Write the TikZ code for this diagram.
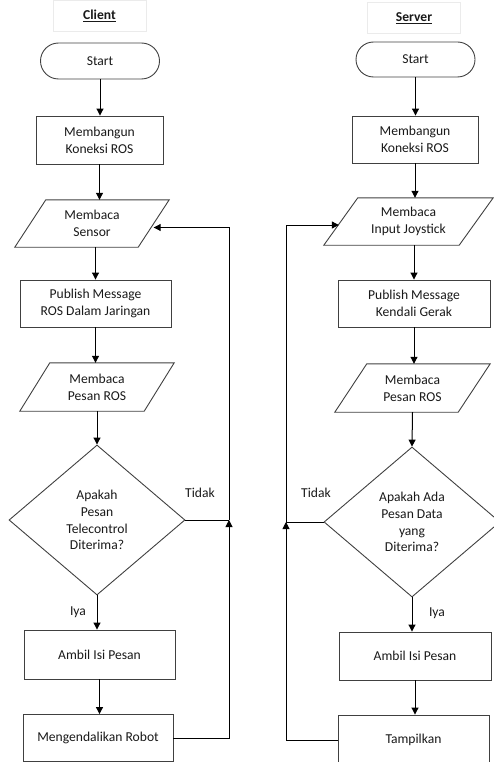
\documentclass[tikz,border=0pt]{standalone}
\usepackage{fontspec}
\setmainfont{Carlito}
\usetikzlibrary{shapes.geometric,shapes.misc,arrows.meta,calc}

% outline of an input/output parallelogram around a node #1, slant offset #2
\newcommand\drawio[2]{%
  \draw[shape line] ($(#1.north west)+(#2,0)$) -- (#1.north east)
    -- ($(#1.south east)-(#2,0)$) -- (#1.south west) -- cycle;}

\begin{document}
\begin{tikzpicture}[x=1pt,y=-1pt,
  every node/.style={font=\fontsize{13.6}{16.8}\selectfont, align=center, text=black!90, inner sep=0pt},
  shape line/.style={draw=black!75, line width=0.9pt},
  proc/.style={shape line, rectangle, minimum width=#1, minimum height=48},
  proc/.default=151,
  term/.style={shape line, rounded rectangle, minimum width=119, minimum height=36},
  io/.style={rectangle, minimum width=#1, minimum height=47},
  dec/.style={shape line, diamond, minimum width=176, minimum height=150},
  flow/.style={line width=1pt, -{Triangle[length=7pt,width=7pt]}},
  link/.style={line width=1pt},
  lbl/.style={font=\fontsize{13.6}{16}\selectfont},
  title/.style={draw=black!8, line width=0.6pt, minimum width=93, minimum height=31,
                font=\bfseries\fontsize{13.6}{16}\selectfont}
]
\clip (0,0) rectangle (494,762);
\useasboundingbox (0,0) rectangle (494,762);

% ---------------- Client ----------------
\node[title] (ctitle) at (99.5,16) {\underline{Client}};
\node[term] (cs) at (100,61) {Start};
\node[proc=127] (cb) at (99.5,140) {Membangun\\Koneksi ROS};
\node[io=154] (cr) at (92,223.5) {Membaca\\Sensor};
\drawio{cr}{31}
\node[proc=151, minimum height=47] (cp) at (95.5,303.5) {Publish Message\\ROS Dalam Jaringan};
\node[io=154, minimum height=48] (cm) at (97,387) {Membaca\\Pesan ROS};
\drawio{cm}{30}
\node[dec] (cd) at (97,520) {Apakah\\Pesan\\Telecontrol\\Diterima?};
\node[proc=151, minimum height=49] (ca) at (99.5,654.5) {Ambil Isi Pesan};
\node[proc=150, minimum height=47] (cg) at (98,738) {Mengendalikan Robot};

\draw[flow] (cs.south) -- (cs.south |- cb.north);
\draw[flow] (cb.south) -- (cb.south |- cr.north);
\draw[flow] (cp.north |- cr.south) -- (cp.north);
\draw[flow] (cp.south) -- (cp.south |- cm.north);
\draw[flow] (cm.south) -- (cd.north);
\draw[flow] (cd.south) -- (cd.south |- ca.north);
\draw[flow] (ca.south) -- (ca.south |- cg.north);

\coordinate (cj) at (229,520);
\coordinate (crin) at ($(cr.east)+(-15.5,4)$);
\draw[link] (cd.east) -- (cj);
\draw[flow] (cg.east) -| (cj);
\draw[flow] (cj) |- (crin);

\node[lbl] (ctidak) at (200,493) {Tidak};
\node[lbl] (ciya) at (78,612) {Iya};

% ---------------- Server ----------------
\node[title] (stitle) at (414,18) {\underline{Server}};
\node[term, minimum height=35] (ss) at (415.5,59.5) {Start};
\node[proc=126, minimum height=47] (sb) at (415,139.5) {Membangun\\Koneksi ROS};
\node[io=169] (sr) at (408.5,221.5) {Membaca\\Input Joystick};
\drawio{sr}{34}
\node[proc=152, minimum height=47] (sp) at (414,303.5) {Publish Message\\Kendali Gerak};
\node[io=155, minimum height=48] (sm) at (412.5,388) {Membaca\\Pesan ROS};
\drawio{sm}{32}
\node[dec] (sd) at (412,522) {Apakah Ada\\Pesan Data\\yang\\Diterima?};
\node[proc=152] (sa) at (415,656) {Ambil Isi Pesan};
\node[proc=151, minimum height=50] (st) at (413.5,740) {Tampilkan};

\draw[flow] (ss.south) -- (ss.south |- sb.north);
\draw[flow] (sb.south) -- (sb.south |- sr.north);
\draw[flow] (sp.north |- sr.south) -- (sp.north);
\draw[flow] (sp.south) -- (sp.south |- sm.north);
\draw[flow] (sm.south) -- (sd.north);
\draw[flow] (sd.south) -- (sd.south |- sa.north);
\draw[flow] (sa.south) -- (sa.south |- st.north);

\coordinate (sj) at (286,522);
\coordinate (srin) at ($(sr.west)+(15,3.5)$);
\draw[link] (sd.west) -- (sj);
\draw[flow] (st.west) -| (sj);
\draw[flow] (sj) |- (srin);

\node[lbl] (stidak) at (316,493) {Tidak};
\node[lbl] (siya) at (437,613) {Iya};
\end{tikzpicture}
\end{document}
